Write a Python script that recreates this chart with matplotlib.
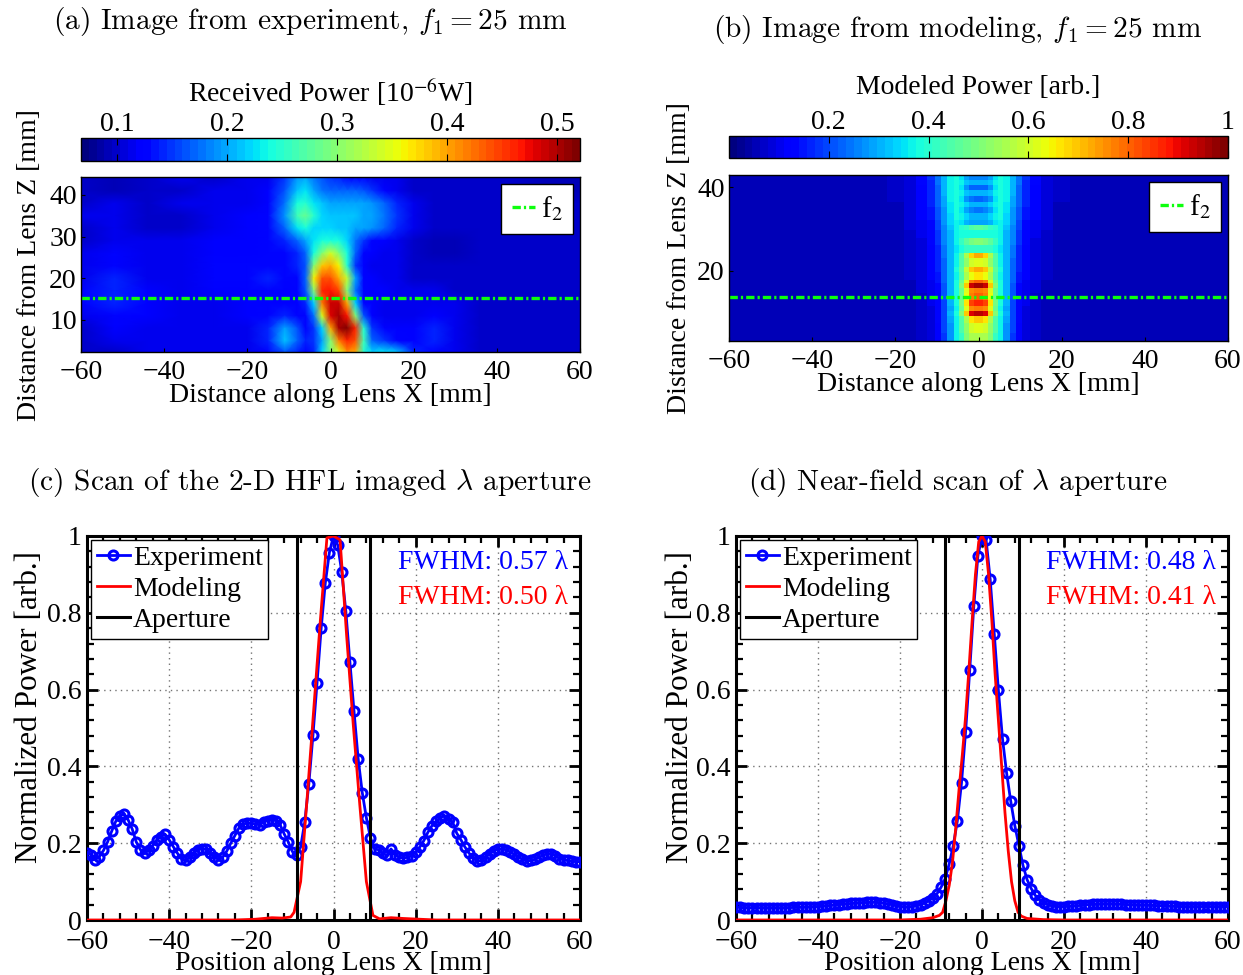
import numpy as np
import matplotlib
matplotlib.use("Agg")
import matplotlib.pyplot as plt
from matplotlib.colors import Normalize
from matplotlib.ticker import MultipleLocator, FuncFormatter

plt.rcParams["font.family"] = ["Liberation Serif", "DejaVu Serif"]
plt.rcParams["mathtext.fontset"] = "stix"
plt.rcParams["font.size"] = 20
plt.rcParams["lines.scale_dashes"] = False

# ---------------------------------------------------------------- data
# (a) measured power map [1e-6 W] at grid nodes; rows from the top (z = 44.3 mm)
#     down to the bottom (z = 2.3 mm)
exp_nodes_x = [-60, -52, -44, -36, -28, -20, -15, -11, -8, -6, -4, -2, 0, 2, 4,
               6, 8, 10, 13, 16, 20, 25, 30, 36, 44, 52, 60]
exp_nodes_z = [44.3, 41, 38, 35, 32, 29, 26, 23, 20, 17, 14, 11, 8, 5, 2.3]
exp_map = [
    [0.10, 0.09, 0.10, 0.11, 0.10, 0.11, 0.11, 0.15, 0.19, 0.20, 0.18, 0.16, 0.15, 0.14, 0.13, 0.12, 0.12, 0.11, 0.11, 0.11, 0.10, 0.10, 0.10, 0.10, 0.10, 0.09, 0.09],
    [0.10, 0.09, 0.10, 0.10, 0.11, 0.11, 0.12, 0.16, 0.21, 0.23, 0.20, 0.18, 0.17, 0.17, 0.17, 0.17, 0.16, 0.15, 0.13, 0.11, 0.10, 0.10, 0.10, 0.10, 0.10, 0.09, 0.09],
    [0.10, 0.11, 0.10, 0.11, 0.11, 0.11, 0.12, 0.18, 0.24, 0.25, 0.23, 0.21, 0.20, 0.20, 0.20, 0.20, 0.20, 0.19, 0.17, 0.14, 0.11, 0.10, 0.10, 0.10, 0.10, 0.10, 0.10],
    [0.11, 0.11, 0.10, 0.10, 0.11, 0.12, 0.13, 0.19, 0.26, 0.28, 0.25, 0.22, 0.21, 0.21, 0.21, 0.21, 0.20, 0.20, 0.18, 0.15, 0.11, 0.10, 0.10, 0.10, 0.10, 0.11, 0.10],
    [0.10, 0.11, 0.10, 0.10, 0.11, 0.12, 0.13, 0.17, 0.23, 0.24, 0.22, 0.22, 0.22, 0.21, 0.21, 0.20, 0.20, 0.19, 0.17, 0.14, 0.11, 0.10, 0.10, 0.10, 0.10, 0.10, 0.10],
    [0.10, 0.11, 0.11, 0.11, 0.12, 0.12, 0.13, 0.14, 0.17, 0.20, 0.23, 0.24, 0.24, 0.24, 0.22, 0.18, 0.15, 0.13, 0.12, 0.11, 0.10, 0.09, 0.09, 0.10, 0.10, 0.10, 0.10],
    [0.11, 0.13, 0.11, 0.11, 0.12, 0.12, 0.13, 0.13, 0.14, 0.17, 0.24, 0.30, 0.34, 0.30, 0.24, 0.17, 0.13, 0.12, 0.11, 0.11, 0.10, 0.09, 0.09, 0.10, 0.10, 0.10, 0.10],
    [0.11, 0.13, 0.11, 0.11, 0.13, 0.13, 0.13, 0.13, 0.14, 0.16, 0.30, 0.38, 0.40, 0.36, 0.25, 0.15, 0.12, 0.11, 0.11, 0.11, 0.10, 0.10, 0.10, 0.10, 0.10, 0.10, 0.10],
    [0.11, 0.14, 0.11, 0.11, 0.13, 0.13, 0.14, 0.13, 0.13, 0.17, 0.36, 0.44, 0.44, 0.40, 0.33, 0.20, 0.13, 0.12, 0.11, 0.11, 0.10, 0.10, 0.10, 0.10, 0.10, 0.10, 0.10],
    [0.12, 0.14, 0.12, 0.11, 0.12, 0.12, 0.13, 0.12, 0.13, 0.16, 0.30, 0.46, 0.47, 0.45, 0.30, 0.18, 0.13, 0.12, 0.12, 0.11, 0.11, 0.11, 0.10, 0.10, 0.10, 0.10, 0.10],
    [0.12, 0.14, 0.12, 0.11, 0.11, 0.12, 0.12, 0.12, 0.12, 0.14, 0.22, 0.42, 0.49, 0.49, 0.40, 0.22, 0.13, 0.12, 0.11, 0.11, 0.11, 0.11, 0.11, 0.10, 0.10, 0.10, 0.10],
    [0.11, 0.13, 0.12, 0.11, 0.11, 0.12, 0.13, 0.14, 0.13, 0.13, 0.18, 0.35, 0.48, 0.50, 0.47, 0.30, 0.16, 0.12, 0.11, 0.11, 0.11, 0.12, 0.11, 0.10, 0.10, 0.10, 0.10],
    [0.10, 0.12, 0.11, 0.11, 0.11, 0.11, 0.14, 0.20, 0.16, 0.13, 0.15, 0.22, 0.40, 0.50, 0.52, 0.46, 0.25, 0.15, 0.13, 0.12, 0.12, 0.14, 0.11, 0.10, 0.10, 0.10, 0.10],
    [0.10, 0.11, 0.11, 0.11, 0.11, 0.11, 0.14, 0.21, 0.17, 0.14, 0.15, 0.20, 0.30, 0.42, 0.46, 0.44, 0.26, 0.17, 0.15, 0.13, 0.12, 0.14, 0.11, 0.10, 0.10, 0.10, 0.10],
    [0.10, 0.10, 0.11, 0.11, 0.11, 0.11, 0.13, 0.16, 0.14, 0.13, 0.14, 0.22, 0.30, 0.35, 0.41, 0.40, 0.25, 0.22, 0.23, 0.21, 0.14, 0.12, 0.11, 0.10, 0.10, 0.10, 0.10],
]
exp_range = (0.067, 0.521)
exp_cbar_ticks = [0.1, 0.2, 0.3, 0.4, 0.5]
f2_exp = 15.3

# (b) modeled power map [arb.], symmetric in x; half-rows hold the cells
#     |x| in [0,1.2], [1.2,2.4], ... [28,60]; rows run bottom to top
mod_half_edges = [1.2, 2.4, 3.6, 4.8, 6.0, 7.5, 9.0, 10.5, 12.5, 15, 18, 22, 28, 60]
mod_z_edges = [3.1, 5.0, 7.4, 9.0, 10.2, 11.4, 13.0, 14.6, 15.8, 17.0, 17.8, 19.8, 21.0,
               23.0, 24.2, 26.2, 27.8, 29.8, 31.0, 32.2, 33.8, 35.4, 36.6, 38.0, 39.4,
               40.6, 41.8, 43.0]
mod_half_rows = [
    [0.56, 0.55, 0.50, 0.42, 0.36, 0.28, 0.18, 0.12, 0.09, 0.07, 0.06, 0.06, 0.05, 0.05],
    [0.62, 0.60, 0.53, 0.44, 0.37, 0.28, 0.19, 0.12, 0.09, 0.07, 0.06, 0.06, 0.05, 0.05],
    [0.70, 0.67, 0.56, 0.45, 0.37, 0.29, 0.19, 0.13, 0.09, 0.07, 0.06, 0.06, 0.05, 0.05],
    [0.95, 0.92, 0.70, 0.50, 0.38, 0.30, 0.20, 0.13, 0.09, 0.07, 0.06, 0.06, 0.05, 0.05],
    [0.78, 0.76, 0.62, 0.47, 0.37, 0.29, 0.20, 0.13, 0.09, 0.07, 0.06, 0.06, 0.05, 0.05],
    [0.86, 0.84, 0.66, 0.49, 0.38, 0.30, 0.20, 0.13, 0.10, 0.07, 0.06, 0.06, 0.05, 0.05],
    [0.80, 0.78, 0.63, 0.48, 0.38, 0.30, 0.21, 0.14, 0.10, 0.07, 0.06, 0.06, 0.05, 0.05],
    [0.78, 0.76, 0.62, 0.47, 0.38, 0.30, 0.21, 0.14, 0.10, 0.08, 0.06, 0.06, 0.05, 0.05],
    [0.96, 0.93, 0.70, 0.50, 0.39, 0.31, 0.21, 0.14, 0.10, 0.08, 0.06, 0.06, 0.05, 0.05],
    [0.80, 0.78, 0.62, 0.47, 0.38, 0.31, 0.22, 0.15, 0.10, 0.08, 0.06, 0.06, 0.05, 0.05],
    [0.66, 0.64, 0.55, 0.45, 0.37, 0.31, 0.22, 0.15, 0.11, 0.08, 0.07, 0.06, 0.05, 0.05],
    [0.73, 0.70, 0.58, 0.46, 0.38, 0.31, 0.23, 0.16, 0.11, 0.08, 0.07, 0.06, 0.05, 0.05],
    [0.62, 0.60, 0.52, 0.44, 0.37, 0.31, 0.23, 0.16, 0.11, 0.08, 0.07, 0.06, 0.05, 0.05],
    [0.72, 0.68, 0.56, 0.45, 0.37, 0.31, 0.24, 0.17, 0.12, 0.09, 0.07, 0.06, 0.05, 0.05],
    [0.42, 0.42, 0.41, 0.39, 0.35, 0.30, 0.24, 0.17, 0.12, 0.09, 0.07, 0.06, 0.05, 0.05],
    [0.50, 0.49, 0.46, 0.41, 0.36, 0.31, 0.25, 0.18, 0.13, 0.09, 0.07, 0.06, 0.05, 0.05],
    [0.38, 0.38, 0.38, 0.38, 0.36, 0.31, 0.25, 0.18, 0.13, 0.10, 0.07, 0.06, 0.05, 0.05],
    [0.46, 0.45, 0.42, 0.40, 0.37, 0.32, 0.26, 0.19, 0.14, 0.10, 0.08, 0.06, 0.05, 0.05],
    [0.29, 0.29, 0.31, 0.35, 0.37, 0.33, 0.27, 0.20, 0.14, 0.10, 0.08, 0.06, 0.05, 0.05],
    [0.31, 0.31, 0.33, 0.36, 0.38, 0.34, 0.28, 0.21, 0.15, 0.11, 0.08, 0.06, 0.05, 0.05],
    [0.24, 0.25, 0.29, 0.35, 0.38, 0.35, 0.28, 0.21, 0.15, 0.11, 0.08, 0.06, 0.05, 0.05],
    [0.31, 0.31, 0.33, 0.36, 0.38, 0.35, 0.29, 0.22, 0.16, 0.11, 0.08, 0.06, 0.05, 0.05],
    [0.23, 0.24, 0.28, 0.35, 0.38, 0.36, 0.29, 0.22, 0.16, 0.12, 0.08, 0.07, 0.05, 0.05],
    [0.30, 0.30, 0.32, 0.36, 0.39, 0.36, 0.30, 0.23, 0.17, 0.12, 0.09, 0.07, 0.05, 0.05],
    [0.22, 0.23, 0.28, 0.35, 0.38, 0.36, 0.30, 0.23, 0.17, 0.12, 0.09, 0.07, 0.05, 0.05],
    [0.30, 0.30, 0.32, 0.36, 0.39, 0.36, 0.30, 0.24, 0.17, 0.13, 0.09, 0.07, 0.06, 0.05],
    [0.25, 0.26, 0.29, 0.35, 0.38, 0.36, 0.30, 0.24, 0.18, 0.13, 0.09, 0.07, 0.06, 0.05],
]
mod_range = (0.0, 1.0)
mod_cbar_ticks = [0.2, 0.4, 0.6, 0.8, 1.0]
f2_mod = 13.7

# (c), (d) line scans, experiment sampled every 1 mm from -60 to 60 mm
scan_x = np.arange(-60, 61, 1)
exp_c = [
    0.175, 0.170, 0.157, 0.165, 0.181, 0.203, 0.231, 0.257, 0.272, 0.275,
    0.261, 0.237, 0.203, 0.183, 0.174, 0.181, 0.194, 0.209, 0.217, 0.223,
    0.209, 0.191, 0.174, 0.159, 0.155, 0.163, 0.174, 0.183, 0.186, 0.184,
    0.174, 0.165, 0.157, 0.163, 0.179, 0.200, 0.220, 0.240, 0.249, 0.253,
    0.252, 0.250, 0.248, 0.255, 0.259, 0.261, 0.259, 0.248, 0.224, 0.203,
    0.178, 0.170, 0.190, 0.255, 0.355, 0.481, 0.618, 0.760, 0.877, 0.957,
    1.000,
    0.977, 0.907, 0.804, 0.671, 0.543, 0.420, 0.332, 0.266, 0.214, 0.185,
    0.183, 0.174, 0.168, 0.185, 0.170, 0.163, 0.162, 0.163, 0.167, 0.177,
    0.190, 0.207, 0.229, 0.246, 0.257, 0.265, 0.272, 0.263, 0.255, 0.226,
    0.209, 0.190, 0.174, 0.162, 0.153, 0.155, 0.163, 0.172, 0.180, 0.185,
    0.185, 0.183, 0.177, 0.171, 0.164, 0.158, 0.154, 0.155, 0.158, 0.163,
    0.168, 0.173, 0.173, 0.167, 0.160, 0.157, 0.155, 0.153, 0.152, 0.152,
]
exp_d = [
    0.033, 0.033, 0.032, 0.032, 0.032, 0.032, 0.032, 0.032, 0.032, 0.032,
    0.032, 0.032, 0.032, 0.032, 0.033, 0.033, 0.033, 0.034, 0.034, 0.035,
    0.035, 0.036, 0.037, 0.038, 0.039, 0.040, 0.041, 0.042, 0.043, 0.044,
    0.045, 0.045, 0.046, 0.046, 0.046, 0.045, 0.044, 0.042, 0.040, 0.037,
    0.035, 0.034, 0.034, 0.035, 0.037, 0.040, 0.044, 0.050, 0.058, 0.068,
    0.085, 0.107, 0.146, 0.194, 0.259, 0.357, 0.490, 0.650, 0.817, 0.948,
    1.000,
    0.990, 0.887, 0.744, 0.598, 0.472, 0.383, 0.310, 0.246, 0.194, 0.142,
    0.105, 0.082, 0.064, 0.053, 0.045, 0.040, 0.037, 0.035, 0.035, 0.035,
    0.036, 0.036, 0.037, 0.038, 0.039, 0.040, 0.041, 0.041, 0.042, 0.042,
    0.042, 0.042, 0.041, 0.041, 0.040, 0.040, 0.040, 0.039, 0.039, 0.039,
    0.038, 0.038, 0.037, 0.037, 0.036, 0.036, 0.036, 0.035, 0.035, 0.035,
    0.035, 0.035, 0.035, 0.035, 0.035, 0.035, 0.035, 0.035, 0.035, 0.035,
]
mod_x_c = [-60, -24, -19, -15, -12.5, -11, -10.4, -9.6, -8.0, -6.4, -4.8, -3.2, -1.6,
           0, 1.6, 3.2, 4.8, 6.4, 8.0, 9.6, 11.2, 14, 17, 21, 25, 60]
mod_c = [0, 0, 0.002, 0.006, 0.005, 0.007, 0.008, 0.02, 0.10, 0.32, 0.55, 0.78, 0.995,
         1.0, 0.99, 0.74, 0.51, 0.30, 0.10, 0.012, 0.003, 0.006, 0.004, 0.002, 0, 0]
mod_x_d = [-60, -20, -15, -12, -10.4, -9.6, -8.8, -8.0, -7.2, -6.4, -5.6, -4.8, -4.0,
           -3.2, -2.4, -1.6, -0.8, 0, 0.8, 1.6, 2.4, 3.2, 4.0, 4.8, 5.6, 6.4, 7.2,
           8.0, 8.8, 9.6, 11, 15, 20, 60]
mod_d = [0, 0, 0.002, 0.006, 0.012, 0.02, 0.05, 0.09, 0.15, 0.24, 0.34, 0.43, 0.53,
         0.65, 0.78, 0.90, 0.985, 1.0, 0.985, 0.90, 0.78, 0.64, 0.52, 0.40, 0.28, 0.18, 0.10,
         0.05, 0.02, 0.01, 0.004, 0.001, 0, 0]
aperture_edges = [-9, 9]
fwhm_c = ("FWHM: 0.57 λ", "FWHM: 0.50 λ")
fwhm_d = ("FWHM: 0.48 λ", "FWHM: 0.41 λ")

# ---------------------------------------------------------------- figure
W, H = 1243, 975
fig = plt.figure(figsize=(W / 100, H / 100), dpi=100, facecolor="white")
jet64 = matplotlib.colormaps["jet"].resampled(64)


def px_rect(x0, y0, x1, y1):
    """Axes rectangle from pixel corners (origin top-left)."""
    return [x0 / W, 1 - y1 / H, (x1 - x0) / W, (y1 - y0) / H]


def ftext(x, y, s, **kw):
    kw.setdefault("ha", "center")
    kw.setdefault("va", "center")
    return fig.text(x / W, 1 - y / H, s, **kw)


def title(x, y, s):
    ftext(x, y, s, family="cmr10", math_fontfamily="cm", fontsize=21.2)


def style_map_axes(ax, yticks):
    ax.set_xticks([-60, -40, -20, 0, 20, 40, 60])
    ax.set_yticks(yticks)
    ax.tick_params(direction="in", length=3, width=0.8, pad=6, labelsize=20)
    ax.tick_params(axis="y", pad=3)
    for s in ax.spines.values():
        s.set_linewidth(1.0)


def style_cbar(cb, ticks):
    cax = cb.ax
    cb.set_ticks(ticks)
    cax.xaxis.set_major_formatter(FuncFormatter(lambda v, _: f"{v:g}"))
    cax.xaxis.set_ticks_position("both")
    cax.tick_params(axis="x", direction="in", length=5, width=0.8, top=True, bottom=True,
                    labeltop=True, labelbottom=False, pad=1, labelsize=20)
    cb.outline.set_linewidth(1.0)
    cax.minorticks_off()


def f2_legend(ax, line):
    leg = ax.legend([line], ["f$_2$"], loc="upper right", fontsize=21, handlelength=0.8,
                    handletextpad=0.2, borderpad=0.35, borderaxespad=0.25, fancybox=False,
                    framealpha=1, edgecolor="black")
    leg.get_frame().set_linewidth(1.0)


f2_style = dict(color=(0.05, 1.0, 0.05), lw=2.4, linestyle=(0, (6.0, 2.2, 1.6, 2.2)))

# (a) experiment map
ax_a = fig.add_axes(px_rect(81, 177, 580, 352))
norm_a = Normalize(*exp_range)
im_a = ax_a.pcolormesh(exp_nodes_x, exp_nodes_z, np.array(exp_map), cmap=jet64,
                       norm=norm_a, shading="gouraud")
ax_a.set_xlim(-60, 60)
ax_a.set_ylim(2.3, 44.3)
la = ax_a.axhline(f2_exp, **f2_style)
f2_legend(ax_a, la)
style_map_axes(ax_a, [10, 20, 30, 40])
cax_a = fig.add_axes(px_rect(81, 138, 580, 161))
cb_a = fig.colorbar(im_a, cax=cax_a, orientation="horizontal")
style_cbar(cb_a, exp_cbar_ticks)
ftext(330, 92, "Received Power [10$^{-6}$W]")
ftext(330, 395, "Distance along Lens X [mm]")
ftext(30, 265, "Distance from Lens Z [mm]", rotation=90)
title(310, 22, "(a) Image from experiment, $f_1 = 25$ mm")

# (b) modeled map
ax_b = fig.add_axes(px_rect(729, 175, 1228, 341))
norm_b = Normalize(*mod_range)
half = np.array(mod_half_edges)
x_edges = np.concatenate([-half[::-1], half])
rows = np.array(mod_half_rows)
mod_map = np.hstack([rows[:, :0:-1], rows])
im_b = ax_b.pcolormesh(x_edges, mod_z_edges, mod_map, cmap=jet64, norm=norm_b, shading="flat")
ax_b.set_xlim(-60, 60)
ax_b.set_ylim(3.1, 43.0)
lb = ax_b.axhline(f2_mod, **f2_style)
f2_legend(ax_b, lb)
style_map_axes(ax_b, [20, 40])
cax_b = fig.add_axes(px_rect(729, 136, 1228, 158))
cb_b = fig.colorbar(im_b, cax=cax_b, orientation="horizontal")
style_cbar(cb_b, mod_cbar_ticks)
ftext(978, 88, "Modeled Power [arb.]")
ftext(978, 385, "Distance along Lens X [mm]")
ftext(680, 258, "Distance from Lens Z [mm]", rotation=90)
title(958, 30, "(b) Image from modeling, $f_1 = 25$ mm")


def scan_panel(rect, exp_y, mx, my, fwhm):
    ax = fig.add_axes(rect)
    l1, = ax.plot(scan_x, exp_y, "-o", color="blue", lw=2.0, ms=6.5, mfc="none",
                  mew=2.2, zorder=3)
    l2, = ax.plot(mx, my, color="red", lw=2.0, zorder=4)
    l3 = None
    for xa in aperture_edges:
        l3, = ax.plot([xa, xa], [0, 1], color="black", lw=2.2, zorder=5)
    ax.set_xlim(-60, 60)
    ax.set_ylim(0, 1)
    ax.xaxis.set_major_locator(MultipleLocator(20))
    ax.xaxis.set_minor_locator(MultipleLocator(4))
    ax.yaxis.set_major_locator(MultipleLocator(0.2))
    ax.yaxis.set_minor_locator(MultipleLocator(0.04))
    ax.yaxis.set_major_formatter(FuncFormatter(lambda v, _: f"{v:g}"))
    ax.tick_params(which="both", direction="in", top=True, right=True, labelsize=20)
    ax.tick_params(which="major", length=8, width=2.0)
    ax.tick_params(which="minor", length=5, width=1.6)
    ax.tick_params(axis="x", pad=7)
    ax.tick_params(axis="y", pad=4)
    ax.grid(True, which="major", linestyle=(0, (1, 3)), color="0.45", lw=1.0)
    ax.set_axisbelow(True)
    for s in ax.spines.values():
        s.set_linewidth(2.2)
    leg = ax.legend([l1, l2, l3], ["Experiment", "Modeling", "Aperture"], loc="upper left",
                    fontsize=20, handlelength=1.2, handletextpad=0.1, borderpad=0.2,
                    labelspacing=0.2, borderaxespad=0.15, fancybox=False, framealpha=1,
                    edgecolor="black")
    leg.get_frame().set_linewidth(1.0)
    ax.text(0.976, 0.932, fwhm[0], color="blue", ha="right", va="center",
            transform=ax.transAxes, fontsize=20)
    ax.text(0.976, 0.841, fwhm[1], color="red", ha="right", va="center",
            transform=ax.transAxes, fontsize=20)
    return ax


scan_panel(px_rect(87, 536, 580, 920), exp_c, mod_x_c, mod_c, fwhm_c)
ftext(333, 963, "Position along Lens X [mm]")
ftext(30, 707, "Normalized Power [arb.]", rotation=90, fontsize=22.5)
title(310, 483, r"(c) Scan of the 2-D HFL imaged $\lambda$ aperture")

scan_panel(px_rect(736, 536, 1228, 920), exp_d, mod_x_d, mod_d, fwhm_d)
ftext(982, 963, "Position along Lens X [mm]")
ftext(680, 707, "Normalized Power [arb.]", rotation=90, fontsize=22.5)
title(958, 483, r"(d) Near-field scan of $\lambda$ aperture")

fig.savefig("out.png", dpi=100, facecolor="white")
